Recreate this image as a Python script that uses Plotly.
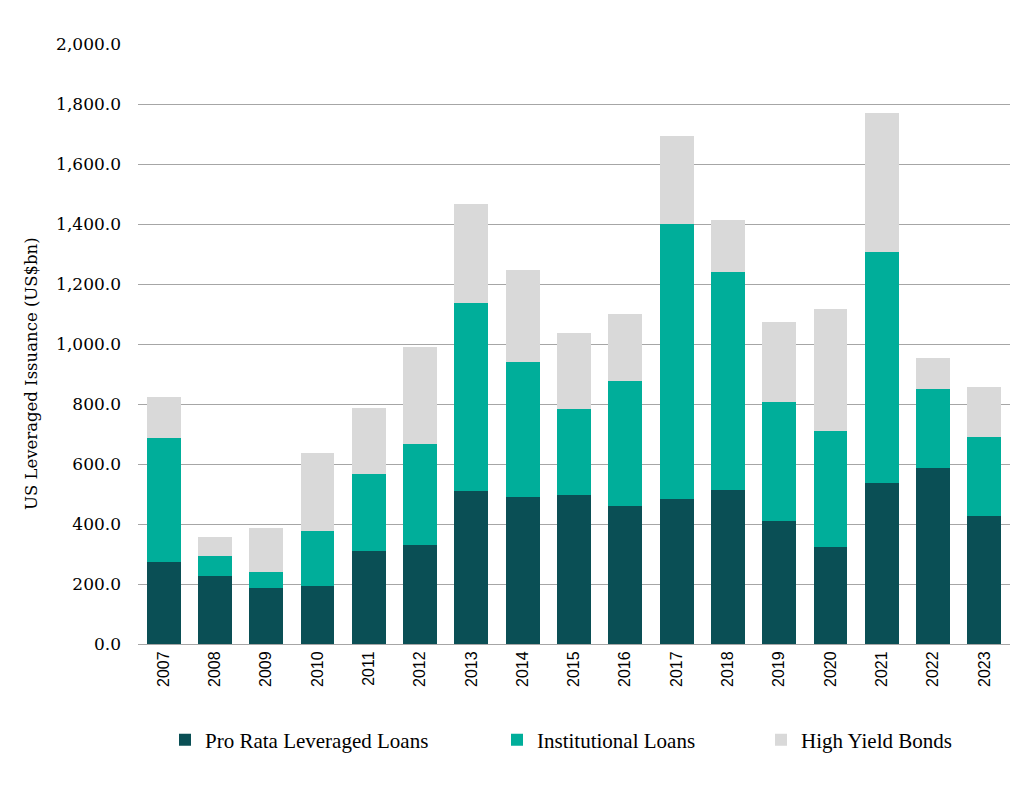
import plotly.graph_objects as go

years = [str(y) for y in range(2007, 2024)]
pro_rata = [273, 227, 187, 193, 310, 330, 510, 490, 497, 460, 483, 513, 410, 323, 537, 587, 427]
institutional = [414, 66, 53, 184, 257, 337, 627, 450, 286, 417, 917, 727, 397, 387, 770, 263, 263]
high_yield = [136, 64, 147, 260, 220, 323, 330, 307, 254, 223, 293, 173, 266, 407, 463, 103, 167]

serif = "Georgia, 'DejaVu Serif', serif"
legend_font = dict(family="'Liberation Serif', 'Times New Roman', serif", size=21, color="#000000")

fig = go.Figure()
fig.add_bar(x=years, y=pro_rata, name="Pro Rata Leveraged Loans", marker_color="#0A4F55", legend="legend")
fig.add_bar(x=years, y=institutional, name="Institutional Loans", marker_color="#00AE9A", legend="legend2")
fig.add_bar(x=years, y=high_yield, name="High Yield Bonds", marker_color="#D9D9D9", legend="legend3")

fig.update_traces(marker_line_width=0)

def leg(xpx):
    return dict(
        orientation="h", x=(xpx - 138) / 872, xanchor="left",
        y=(644 - 740) / 600, yanchor="middle",
        font=legend_font, bgcolor="rgba(0,0,0,0)", itemwidth=30,
    )

fig.update_layout(
    barmode="stack",
    bargap=0.34,
    width=1024, height=792,
    margin=dict(l=138, r=14, t=44, b=148, autoexpand=False),
    paper_bgcolor="white", plot_bgcolor="white",
    font=dict(family=serif, color="#000000"),
    showlegend=True,
    legend=leg(165),
    legend2=leg(497),
    legend3=leg(761),
    xaxis=dict(
        tickangle=-90,
        tickfont=dict(family="'Liberation Sans', Arial, sans-serif", size=16, color="#000000"),
        showline=True, linecolor="#A6A6A6", linewidth=1,
        ticks="", showgrid=False, automargin=False,
    ),
    yaxis=dict(
        range=[0, 2000],
        dtick=200,
        tickformat=",.1f",
        tickfont=dict(family=serif, size=17, color="#000000"),
        showgrid=True, gridcolor="#A6A6A6", gridwidth=1,
        zeroline=False, automargin=False,
        ticks="", ticklabelstandoff=16,
    ),
    annotations=[dict(
        text="US Leveraged Issuance (US$bn)", textangle=-90,
        xref="paper", yref="paper", x=(31 - 138) / 872, y=(644 - 374) / 600,
        xanchor="center", yanchor="middle", showarrow=False,
        font=dict(family=serif, size=16.5, color="#000000"),
    )],
)

fig.write_html("out.html")
